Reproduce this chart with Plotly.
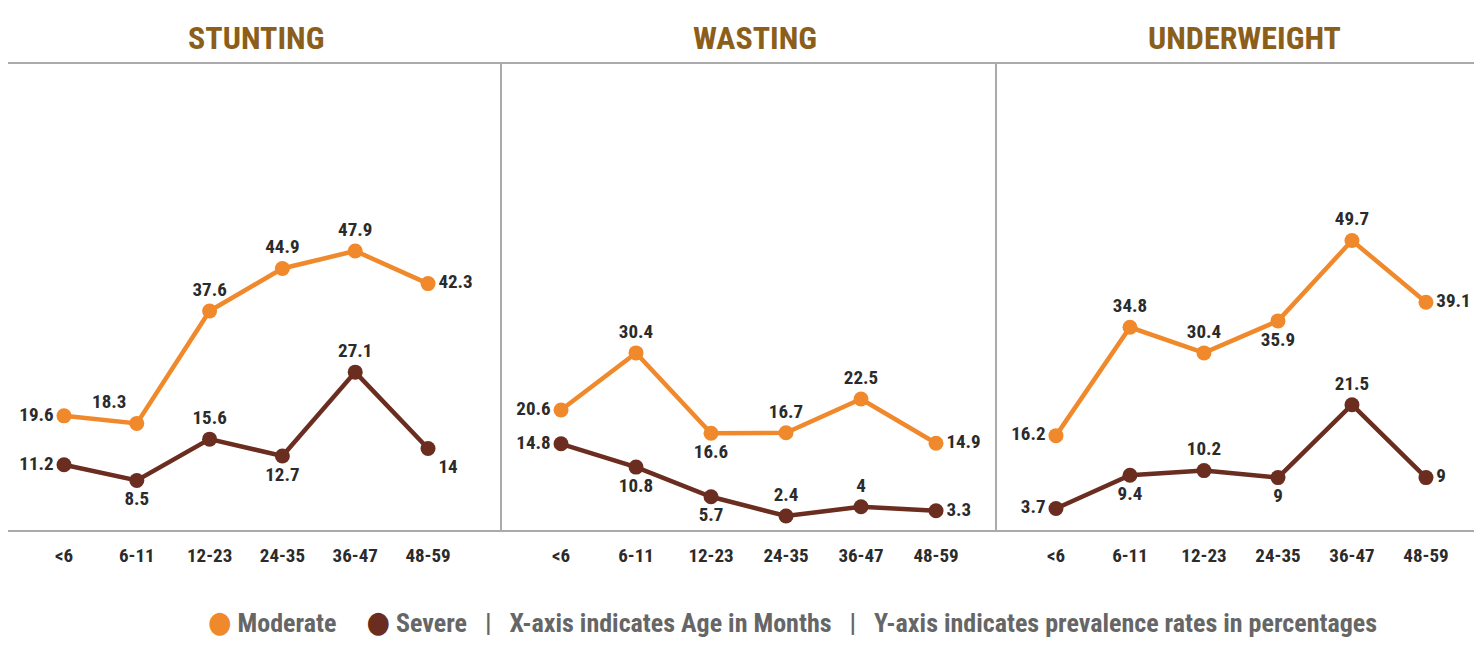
import plotly.graph_objects as go

# ---------------- data ----------------
ages = ["<6", "6-11", "12-23", "24-35", "36-47", "48-59"]
panel_titles = ["STUNTING", "WASTING", "UNDERWEIGHT"]

stunting_moderate = [19.6, 18.3, 37.6, 44.9, 47.9, 42.3]
stunting_severe = [11.2, 8.5, 15.6, 12.7, 27.1, 14]
wasting_moderate = [20.6, 30.4, 16.6, 16.7, 22.5, 14.9]
wasting_severe = [14.8, 10.8, 5.7, 2.4, 4, 3.3]
underweight_moderate = [16.2, 34.8, 30.4, 35.9, 49.7, 39.1]
underweight_severe = [3.7, 9.4, 10.2, 9, 21.5, 9]

# ---------------- styling ----------------
stunting_mod_pos = ["middle left", "top left", "top center", "top center", "top center", "middle right"]
stunting_sev_pos = ["middle left", "bottom center", "top center", "bottom center", "top center", "bottom right"]
wasting_mod_pos = ["middle left", "top center", "bottom center", "top center", "top center", "middle right"]
wasting_sev_pos = ["middle left", "bottom center", "bottom center", "top center", "top center", "middle right"]
underweight_mod_pos = ["middle left", "top center", "top center", "bottom center", "top center", "middle right"]
underweight_sev_pos = ["middle left", "bottom center", "top center", "bottom center", "top center", "middle right"]

MOD = "#F0892B"
SEV = "#6B2D20"
TITLE_C = "#8B5E1A"
LABEL_C = "#2b2b2b"
LEG_C = "#666666"
LINE_C = "#aaaaaa"
FONT = "'Roboto Condensed', 'Liberation Sans Narrow', 'DejaVu Sans Condensed', Roboto, sans-serif"

# page body has an 8px margin: figure occupies screen (8,8) .. (1482,638)
OFF = 8
W, H = 1474, 630
ML, MR, MT, MB = 0, 0, 56, 108
PW = W - ML - MR
PH = H - MT - MB

def px_x(sx):
    return (sx - OFF - ML) / PW

def px_y(sy):
    return (H - MB - (sy - OFF)) / PH

domains = [[0, px_x(502)], [px_x(502), px_x(997)], [px_x(997), 1.0]]
xranges = [[-0.769, 6.016], [-0.787, 5.813], [-0.797, 5.757]]
title_px = [256, 755, 1244]

panels = [
    (stunting_moderate, stunting_severe, stunting_mod_pos, stunting_sev_pos),
    (wasting_moderate, wasting_severe, wasting_mod_pos, wasting_sev_pos),
    (underweight_moderate, underweight_severe, underweight_mod_pos, underweight_sev_pos),
]

fig = go.Figure()
label_font = dict(family=FONT, size=19, color=LABEL_C, weight="bold")

for i, (mod, sev, mpos, spos) in enumerate(panels):
    xa = "x" if i == 0 else f"x{i+1}"
    ya = "y" if i == 0 else f"y{i+1}"
    for vals, pos, col, name in [(sev, spos, SEV, "Severe"), (mod, mpos, MOD, "Moderate")]:
        fig.add_trace(go.Scatter(
            x=ages, y=vals, mode="lines+markers+text",
            text=[f"{v:g}" for v in vals], textposition=pos,
            textfont=label_font,
            line=dict(color=col, width=4.5),
            marker=dict(color=col, size=15),
            name=name, showlegend=False, cliponaxis=False,
            xaxis=xa, yaxis=ya, hoverinfo="skip",
        ))

layout = dict(
    width=W, height=H,
    margin=dict(l=ML, r=MR, t=MT, b=MB),
    paper_bgcolor="white",
    plot_bgcolor="white",
    showlegend=False,
)
for i in range(3):
    sfx = "" if i == 0 else str(i + 1)
    layout[f"xaxis{sfx}"] = dict(
        domain=domains[i], range=xranges[i], type="category",
        anchor=f"y{sfx}", showgrid=False, zeroline=False,
        showline=True, linecolor=LINE_C, linewidth=1.5, mirror=True,
        ticks="", ticklabelstandoff=7,
        tickfont=dict(family=FONT, size=19, color=LABEL_C, weight="bold"),
        fixedrange=True,
    )
    layout[f"yaxis{sfx}"] = dict(
        domain=[0, 1], range=[0, 80], anchor=f"x{sfx}",
        showgrid=False, zeroline=False, showticklabels=False, ticks="",
        showline=True, linecolor=LINE_C, linewidth=1.5, mirror=False,
        fixedrange=True,
    )
fig.update_layout(**layout)

for t, px in zip(panel_titles, title_px):
    fig.add_annotation(text=f"<b>{t}</b>", xref="paper", yref="paper",
                       x=px_x(px), y=px_y(38), xanchor="center", yanchor="middle",
                       showarrow=False,
                       font=dict(family=FONT, size=32, color=TITLE_C))

nb = "\u00a0"
dot = "<span style='font-size:30px;color:{c}'>●</span>"
legend_text = (
    f"{dot.format(c=MOD)}{nb}Moderate{nb*5}"
    f"{dot.format(c=SEV)}{nb}Severe{nb*3}|{nb*3}"
    f"X-axis indicates Age in Months{nb*3}|{nb*3}"
    f"Y-axis indicates prevalence rates in percentages"
)
fig.add_annotation(text=f"<b>{legend_text}</b>", xref="paper", yref="paper",
                   x=px_x(792), y=px_y(621), xanchor="center", yanchor="middle",
                   showarrow=False,
                   font=dict(family=FONT, size=26, color=LEG_C))

fig.write_html("out.html")
